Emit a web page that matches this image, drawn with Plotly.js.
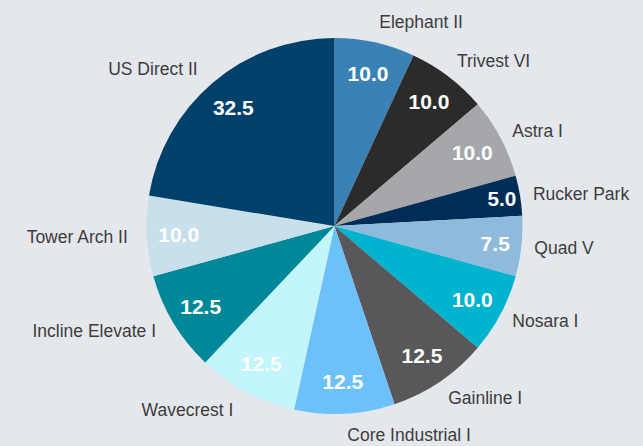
<!DOCTYPE html>
<html>
<head>
<meta charset="utf-8">
<script src="https://cdn.plot.ly/plotly-3.0.1.min.js"></script>
<style>html,body{margin:0;padding:0;background:#e4e7eb;}#chart{width:643px;height:446px;}</style>
</head>
<body>
<div id="chart"></div>
<script>
const labels = ["Elephant II","Trivest VI","Astra I","Rucker Park","Quad V","Nosara I","Gainline I","Core Industrial I","Wavecrest I","Incline Elevate I","Tower Arch II","US Direct II"];
const values = [10.0,10.0,10.0,5.0,7.5,10.0,12.5,12.5,12.5,12.5,10.0,32.5];
const colors = ["#3a82b5","#2b2b2b","#a6a7aa","#002d57","#8fbadb","#00b3cf","#58585a","#6cc1fb","#c2f5fc","#008899","#c8dfec","#00416b"];

const W = 643, H = 446, cx = 334.5, cy = 226, R = 188, RL = 199;
function dom(x0, y0, r){
  return {x:[(x0-r)/W,(x0+r)/W], y:[(H-y0-r)/H,(H-y0+r)/H]};
}
const clear = labels.map(()=> 'rgba(0,0,0,0)');

const pie = {
  type:'pie', labels:labels, values:values, sort:false, direction:'clockwise', rotation:0,
  marker:{colors:colors, line:{width:0}}, textinfo:'none',
  hoverinfo:'none', showlegend:false, domain:dom(cx, cy, R)
};
const vals = {
  type:'pie', labels:labels, values:values, sort:false, direction:'clockwise', rotation:0, hole:0.66,
  marker:{colors:clear, line:{width:0}},
  texttemplate:'%{value:.1f}', textposition:'inside', insidetextorientation:'horizontal',
  insidetextfont:{family:'Liberation Sans, Arial, sans-serif', size:21, color:'#ffffff', weight:'bold'},
  hoverinfo:'none', showlegend:false, domain:dom(cx, cy, R)
};
const lab = {
  type:'pie', labels:labels, values:values, sort:false, direction:'clockwise', rotation:0,
  marker:{colors:clear, line:{width:0}},
  textinfo:'label', textposition:'outside',
  outsidetextfont:{family:'Liberation Sans, Arial, sans-serif', size:17.5, color:'#3d3d3d'},
  hoverinfo:'none', showlegend:false, domain:dom(cx - 3, cy, RL)
};
Plotly.newPlot('chart',[lab,pie,vals],{
  width:W, height:H, margin:{l:0,r:0,t:0,b:0},
  paper_bgcolor:'#e4e7eb', plot_bgcolor:'#e4e7eb', showlegend:false
},{staticPlot:true});
</script>
</body>
</html>
